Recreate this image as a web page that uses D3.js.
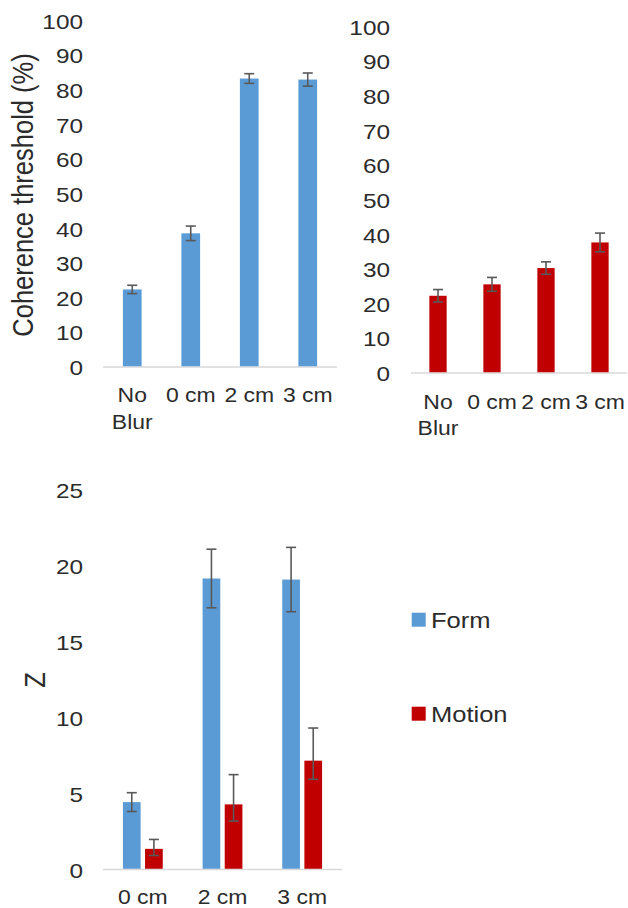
<!DOCTYPE html>
<html>
<head>
<meta charset="utf-8">
<script src="https://cdn.jsdelivr.net/npm/d3@7"></script>
<style>
  html, body { margin: 0; padding: 0; background: #fff; }
  svg { display: block; }
</style>
</head>
<body>
<div id="chart"></div>
<script>
// ---------- data ----------
const topCategories = ["No Blur", "0 cm", "2 cm", "3 cm"];
const topCategoryLines = [["No", "Blur"], ["0 cm"], ["2 cm"], ["3 cm"]];
const formThreshold = [22.4, 38.6, 83.3, 83.0];
const formThresholdErr = [1.2, 2.1, 1.4, 1.9];
const motionThreshold = [22.3, 25.6, 30.3, 37.7];
const motionThresholdErr = [1.8, 2.0, 1.8, 2.7];
const thresholdTicks = [0, 10, 20, 30, 40, 50, 60, 70, 80, 90, 100];

const zCategories = ["0 cm", "2 cm", "3 cm"];
const seriesNames = ["Form", "Motion"];
const formZ = [4.44, 19.17, 19.1];
const formZErrLow = [0.62, 1.93, 2.12];
const formZErrHigh = [0.62, 1.93, 2.12];
const motionZ = [1.36, 4.29, 7.17];
const motionZErrLow = [0.44, 1.10, 1.23];
const motionZErrHigh = [0.62, 1.96, 2.15];
const zTicks = [0, 5, 10, 15, 20, 25];

const colors = { Form: "#5B9BD5", Motion: "#C00000" };

// ---------- setup ----------
const W = 628, H = 908;
const sx = 1.16;           // horizontal stretch of the original figure text
const FONT = "'Liberation Sans', Arial, Helvetica, sans-serif";
const TEXT = "#2b2b2b";
const ERR = "#595959";
const AXIS = "#d9d9d9";

const svg = d3.select("#chart").append("svg").attr("width", W).attr("height", H)
  .style("font-family", FONT);

function yAxis(g, scale, ticks, xRight) {
  const ax = g.append("g").attr("transform", `translate(${xRight},0)`)
    .call(d3.axisLeft(scale).tickValues(ticks).tickSize(0).tickPadding(0));
  ax.select(".domain").remove();
  ax.selectAll("text")
    .attr("x", 0).attr("dy", "0.36em")
    .attr("transform", `scale(${sx},1)`)
    .style("font-size", "21px").style("font-family", FONT)
    .attr("fill", TEXT);
}

function rotLabel(text, x, y, size) {
  svg.append("text")
    .attr("transform", `translate(${x},${y}) scale(${sx},1) rotate(-90)`)
    .attr("text-anchor", "middle")
    .style("font-size", size + "px")
    .attr("fill", TEXT)
    .text(text);
}

function hText(text, x, y, size, anchor, stretch) {
  svg.append("text")
    .attr("transform", `translate(${x},${y}) scale(${stretch || sx},1)`)
    .attr("text-anchor", anchor || "middle")
    .style("font-size", size + "px")
    .attr("fill", TEXT)
    .text(text);
}

function errBar(g, cx, yLo, yHi, capW) {
  g.append("line").attr("x1", cx).attr("x2", cx).attr("y1", yLo).attr("y2", yHi)
    .attr("stroke", ERR).attr("stroke-width", 1.6);
  [yLo, yHi].forEach(yy => g.append("line")
    .attr("x1", cx - capW / 2).attr("x2", cx + capW / 2).attr("y1", yy).attr("y2", yy)
    .attr("stroke", ERR).attr("stroke-width", 1.6));
}

// ---------- top charts ----------
function topChart(opts) {
  const { values, errs, color, xRange, y0, y100, tickRight, labelBase } = opts;
  const x = d3.scaleBand().domain(topCategories).range(xRange)
    .paddingInner(0.68).paddingOuter(0.34);
  const y = d3.scaleLinear().domain([0, 100]).range([y0, y100]);
  const g = svg.append("g");
  yAxis(g, y, thresholdTicks, tickRight);
  g.append("line").attr("x1", xRange[0]).attr("x2", xRange[1])
    .attr("y1", y(0)).attr("y2", y(0)).attr("stroke", AXIS).attr("stroke-width", 1.5);
  topCategories.forEach((c, i) => {
    g.append("rect").attr("x", x(c)).attr("width", x.bandwidth())
      .attr("y", y(values[i])).attr("height", y(0) - y(values[i]) - 0.75)
      .attr("fill", color);
  });
  topCategories.forEach((c, i) => {
    errBar(g, x(c) + x.bandwidth() / 2, y(values[i] - errs[i]), y(values[i] + errs[i]), 10);
    topCategoryLines[i].forEach((ln, k) =>
      hText(ln, x(c) + x.bandwidth() / 2, labelBase + k * 26.7, 20.5, "middle", 1.12));
  });
}

topChart({ values: formThreshold, errs: formThresholdErr, color: colors.Form,
  xRange: [103, 337], y0: 367, y100: 20.7, tickRight: 83, labelBase: 402 });
topChart({ values: motionThreshold, errs: motionThresholdErr, color: colors.Motion,
  xRange: [411, 627], y0: 373, y100: 26.7, tickRight: 390, labelBase: 408.5 });

rotLabel("Coherence threshold (%)", 33, 195, 25.5);

// ---------- bottom chart ----------
{
  const x0 = d3.scaleBand().domain(zCategories).range([103, 342])
    .paddingInner(0.5).paddingOuter(0.25);
  const x1 = d3.scaleBand().domain(seriesNames).range([0, x0.bandwidth()])
    .paddingInner(0.2);
  const y = d3.scaleLinear().domain([0, 25]).range([869.5, 490]);
  const g = svg.append("g");
  yAxis(g, y, zTicks, 83);
  g.append("line").attr("x1", 103).attr("x2", 342)
    .attr("y1", y(0)).attr("y2", y(0)).attr("stroke", AXIS).attr("stroke-width", 1.5);
  const series = {
    Form: [formZ, formZErrLow, formZErrHigh],
    Motion: [motionZ, motionZErrLow, motionZErrHigh]
  };
  zCategories.forEach((c, i) => {
    seriesNames.forEach(s => {
      const v = series[s][0][i];
      g.append("rect").attr("x", x0(c) + x1(s)).attr("width", x1.bandwidth())
        .attr("y", y(v)).attr("height", y(0) - y(v) - 0.75).attr("fill", colors[s]);
    });
  });
  zCategories.forEach((c, i) => {
    seriesNames.forEach(s => {
      const v = series[s][0][i], lo = series[s][1][i], hi = series[s][2][i];
      errBar(g, x0(c) + x1(s) + x1.bandwidth() / 2, y(v - lo), y(v + hi), 10);
    });
    hText(c, x0(c) + x0.bandwidth() / 2, 904, 20.5, "middle", 1.12);
  });
  rotLabel("Z", 45, 680, 25.5);

  // legend
  const legY = { Form: 612.7, Motion: 706.7 };
  seriesNames.forEach(s => {
    svg.append("rect").attr("x", 411.7).attr("y", legY[s]).attr("width", 14).attr("height", 14)
      .attr("fill", colors[s]);
    hText(s, 431, legY[s] + 15, 22, "start");
  });
}
</script>
</body>
</html>
